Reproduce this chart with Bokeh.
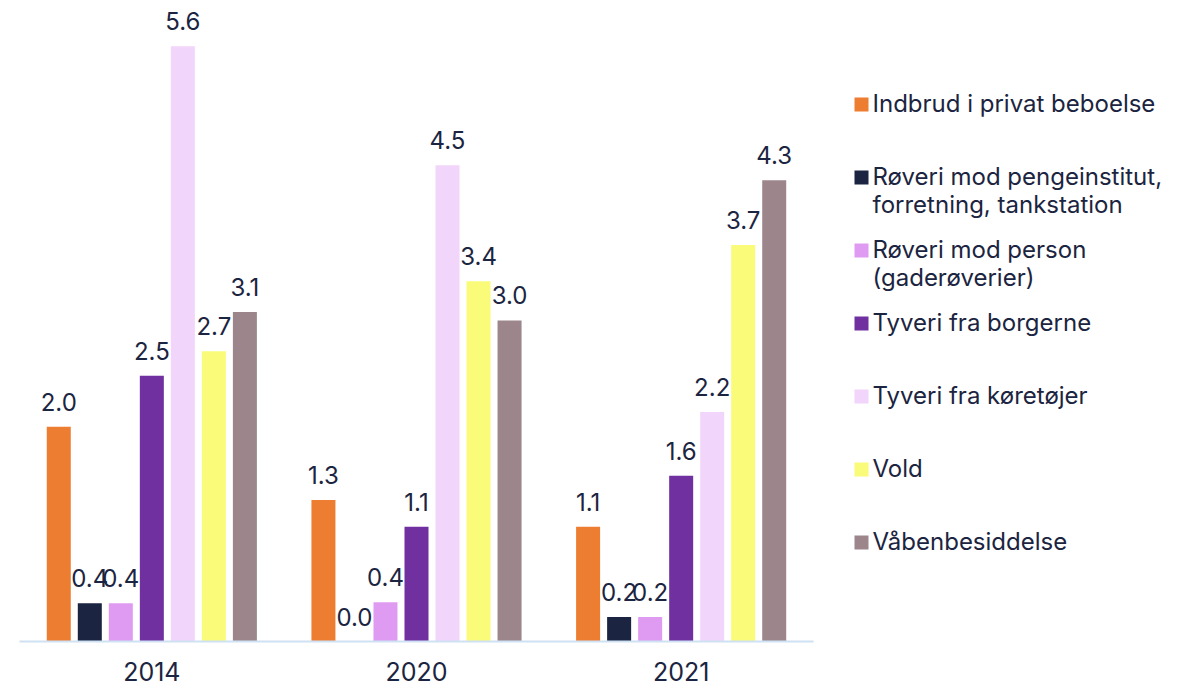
from bokeh.plotting import figure
from bokeh.models import ColumnDataSource, Range1d
from bokeh.transform import dodge
from bokeh.core.properties import value
from bokeh.layouts import row
from bokeh.embed import file_html
from bokeh.resources import INLINE

years = ["2014", "2020", "2021"]
series = [
    "Indbrud i privat beboelse",
    "Røveri mod pengeinstitut,\nforretning, tankstation",
    "Røveri mod person\n(gaderøverier)",
    "Tyveri fra borgerne",
    "Tyveri fra køretøjer",
    "Vold",
    "Våbenbesiddelse",
]
colors = ["#ED7D31", "#1B2440", "#DF9BF1", "#7030A0", "#F2D5FA", "#FAFB78", "#9C868B"]

indbrud = [2.02, 1.33, 1.08]
roveri_penge = [0.36, 0.0, 0.23]
roveri_person = [0.36, 0.37, 0.23]
tyveri_borgerne = [2.50, 1.08, 1.56]
tyveri_koretojer = [5.60, 4.48, 2.16]
vold = [2.73, 3.39, 3.73]
vaaben = [3.10, 3.02, 4.34]
values = [indbrud, roveri_penge, roveri_person, tyveri_borgerne, tyveri_koretojer, vold, vaaben]

FONT = "Inter"
TXT = "#1B2440"

p = figure(x_range=years, y_range=Range1d(0, 633 / 106.3), width=828, height=685,
           output_backend="svg", toolbar_location=None, y_axis_location=None,
           min_border_left=19, min_border_right=15, min_border_top=8, min_border_bottom=44)
p.outline_line_color = None
p.xgrid.visible = False
p.ygrid.visible = False

pitch = 0.1172
bw = 0.0907
for i, (name, col, vals) in enumerate(zip(series, colors, values)):
    src = ColumnDataSource(dict(year=years, v=vals, lab=[f"{x:.1f}" for x in vals]))
    off = (i - 3) * pitch
    p.vbar(x=dodge("year", off, range=p.x_range), top="v", width=bw, source=src,
           fill_color=col, line_color=None)
    p.text(x=dodge("year", off, range=p.x_range), y="v", text="lab", source=src,
           text_align="center", text_baseline="alphabetic", y_offset=-25,
           text_font=value(FONT), text_font_size="24px", text_color=TXT)

ax = p.xaxis[0]
ax.axis_line_color = "#CFE2F3"
ax.axis_line_width = 2
ax.major_tick_line_color = None
ax.minor_tick_line_color = None
ax.major_tick_out = 0
ax.major_label_standoff = 20
ax.major_label_text_line_height = 0.8
ax.major_label_text_font = FONT
ax.major_label_text_font_size = "25px"
ax.major_label_text_color = TXT

# legend panel (frame aligned with the chart frame: page y 8..641)
leg = figure(width=353, height=685, x_range=Range1d(0, 353), y_range=Range1d(641, 8),
             output_backend="svg", toolbar_location=None,
             x_axis_location=None, y_axis_location=None,
             min_border_left=0, min_border_right=0, min_border_top=8, min_border_bottom=44)
leg.outline_line_color = None
leg.xgrid.visible = False
leg.ygrid.visible = False

sx, sy, sz, step = 33, 104, 14, 73
lx, lyl = [], []
ltxt = []
for i, name in enumerate(series):
    cy = sy + i * step
    leg.rect(x=sx, y=cy, width=sz, height=sz, fill_color=colors[i], line_color=None)
    for j, line in enumerate(name.split("\n")):
        lx.append(44)
        lyl.append(cy - 1 + j * 27.5)
        ltxt.append(line)
leg.text(x=lx, y=lyl, text=ltxt, text_align="left", text_baseline="alphabetic",
         text_font=value(FONT), text_font_size="24px", text_color=TXT)

layout = row(p, leg)
open("out.html", "w").write(file_html(layout, INLINE))
